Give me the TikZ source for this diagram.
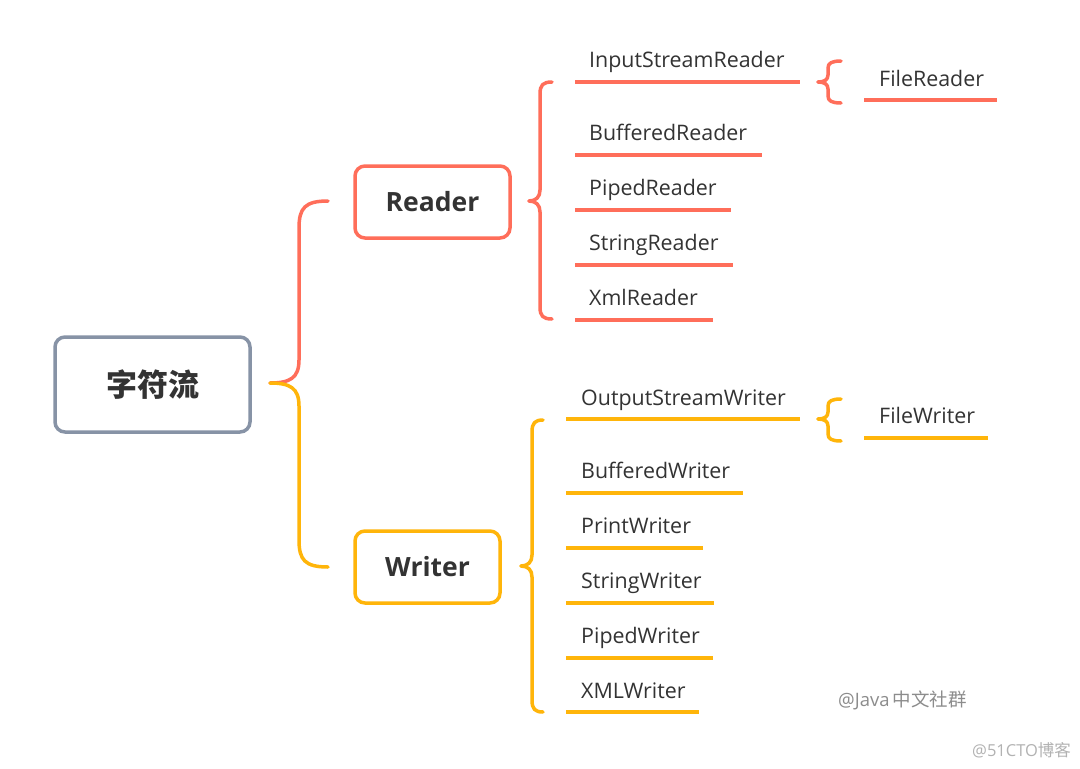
\documentclass[tikz,border=0pt]{standalone}
\usepackage{fontspec}
\setmainfont{Open Sans}
\newfontfamily\cjk{Noto Sans CJK SC}
\definecolor{rd}{HTML}{FF6E5A}
\definecolor{yl}{HTML}{FFB50A}
\definecolor{gr}{HTML}{8793A6}
\definecolor{tx}{HTML}{333333}
\tikzset{
  leaf/.style={anchor=base west, inner sep=0pt, text=tx, font=\fontsize{21.4}{25}\selectfont},
  uline/.style={line width=3.5pt},
  bracep/.style={line width=3.5pt, line cap=round, line join=round},
  mainbox/.style={draw, rounded corners=10pt, line width=3.5pt, anchor=north west, inner sep=0pt, outer sep=0pt, text=tx},
}
\begin{document}
\begin{tikzpicture}[x=1pt,y=-1pt]
\useasboundingbox (0,0) rectangle (1080,769);
\fill[white] (0,0) rectangle (1080,769);

% main boxes
\node[mainbox, draw=gr, minimum width=195pt, minimum height=95pt, font=\cjk\bfseries\fontsize{31}{36}\selectfont] (root) at (55,337) {字符流};
\node[mainbox, draw=rd, minimum width=155pt, minimum height=72pt, font=\bfseries\fontsize{26.5}{30}\selectfont] (reader) at (355,166) {Reader};
\node[mainbox, draw=yl, minimum width=145pt, minimum height=72pt, font=\bfseries\fontsize{26.5}{30}\selectfont] (writer) at (355,531) {Writer};

% root brace
\coordinate (rt) at (270,383);
\coordinate (rtop) at (328,201);
\coordinate (rbot) at (328,567);
\draw[bracep, rd] (rt) .. controls (290,383) and (299,378) .. (299,360) -- (299,228) .. controls (299,208) and (305,201) .. (rtop);
\draw[bracep, yl] (rt) .. controls (290,383) and (299,388) .. (299,406) -- (299,540) .. controls (299,560) and (305,567) .. (rbot);

% reader brace
\coordinate (rbt) at (529,201);
\coordinate (rbtop) at (552,82);
\coordinate (rbbot) at (552,319);
\draw[bracep, rd] (rbt) .. controls (536,201) and (540,197) .. (540,190) -- (540,94) .. controls (540,85) and (543,82) .. (rbtop);
\draw[bracep, rd] (rbt) .. controls (536,201) and (540,205) .. (540,212) -- (540,307) .. controls (540,316) and (543,319) .. (rbbot);

% writer brace
\coordinate (wbt) at (521,566);
\coordinate (wbtop) at (543,420);
\coordinate (wbbot) at (543,712);
\draw[bracep, yl] (wbt) .. controls (528,566) and (532,562) .. (532,555) -- (532,432) .. controls (532,423) and (535,420) .. (wbtop);
\draw[bracep, yl] (wbt) .. controls (528,566) and (532,570) .. (532,577) -- (532,700) .. controls (532,709) and (535,712) .. (wbbot);

% reader children
\node[leaf] (isr) at (589,67) {InputStreamReader};
\draw[uline, rd] (575,82) coordinate (isrA) -- (800,82) coordinate (isrB);
\node[leaf] (br) at (589,140) {BufferedReader};
\draw[uline, rd] (575,155) coordinate (brA) -- (762,155) coordinate (brB);
\node[leaf] (pr) at (589,195) {PipedReader};
\draw[uline, rd] (575,210) coordinate (prA) -- (731,210) coordinate (prB);
\node[leaf] (sr) at (589,250) {StringReader};
\draw[uline, rd] (575,265) coordinate (srA) -- (733,265) coordinate (srB);
\node[leaf] (xr) at (589,305) {XmlReader};
\draw[uline, rd] (575,320) coordinate (xrA) -- (713,320) coordinate (xrB);

% file reader brace
\coordinate (frt) at (818,82);
\coordinate (frtop) at (841,61);
\coordinate (frbot) at (841,103);
\draw[bracep, rd] (frt) .. controls (824,82) and (828,80) .. (828,75) -- (828,68) .. controls (828,63) and (832,61) .. (frtop);
\draw[bracep, rd] (frt) .. controls (824,82) and (828,84) .. (828,89) -- (828,96) .. controls (828,101) and (832,103) .. (frbot);
\node[leaf] (fr) at (879,86) {FileReader};
\draw[uline, rd] (864,100) coordinate (frA) -- (997,100) coordinate (frB);

% writer children
\node[leaf] (osw) at (581,405) {OutputStreamWriter};
\draw[uline, yl] (566,419) coordinate (oswA) -- (800,419) coordinate (oswB);
\node[leaf] (bw) at (581,478) {BufferedWriter};
\draw[uline, yl] (566,493) coordinate (bwA) -- (743,493) coordinate (bwB);
\node[leaf] (pw) at (581,533) {PrintWriter};
\draw[uline, yl] (566,548) coordinate (pwA) -- (703,548) coordinate (pwB);
\node[leaf] (sw) at (581,588) {StringWriter};
\draw[uline, yl] (566,603) coordinate (swA) -- (714,603) coordinate (swB);
\node[leaf] (pdw) at (581,643) {PipedWriter};
\draw[uline, yl] (566,658) coordinate (pdwA) -- (713,658) coordinate (pdwB);
\node[leaf] (xw) at (581,698) {XMLWriter};
\draw[uline, yl] (566,712) coordinate (xwA) -- (699,712) coordinate (xwB);

% file writer brace
\coordinate (fwt) at (818,419);
\coordinate (fwtop) at (841,399);
\coordinate (fwbot) at (841,441);
\draw[bracep, yl] (fwt) .. controls (824,419) and (828,417) .. (828,412) -- (828,406) .. controls (828,401) and (832,399) .. (fwtop);
\draw[bracep, yl] (fwt) .. controls (824,419) and (828,421) .. (828,426) -- (828,434) .. controls (828,439) and (832,441) .. (fwbot);
\node[leaf] (fw) at (879,423) {FileWriter};
\draw[uline, yl] (864,438) coordinate (fwA) -- (988,438) coordinate (fwB);

% watermarks
\node[anchor=base west, inner sep=0pt, text=black!45, font=\fontsize{18.5}{22}\selectfont] (wm1) at (838,706) {@Java\,{\cjk 中文社群}};
\node[anchor=base west, inner sep=0pt, text=black!30, font=\fontsize{16.5}{19}\selectfont] (wm2) at (972,756) {@51CTO{\cjk 博客}};
\end{tikzpicture}
\end{document}
